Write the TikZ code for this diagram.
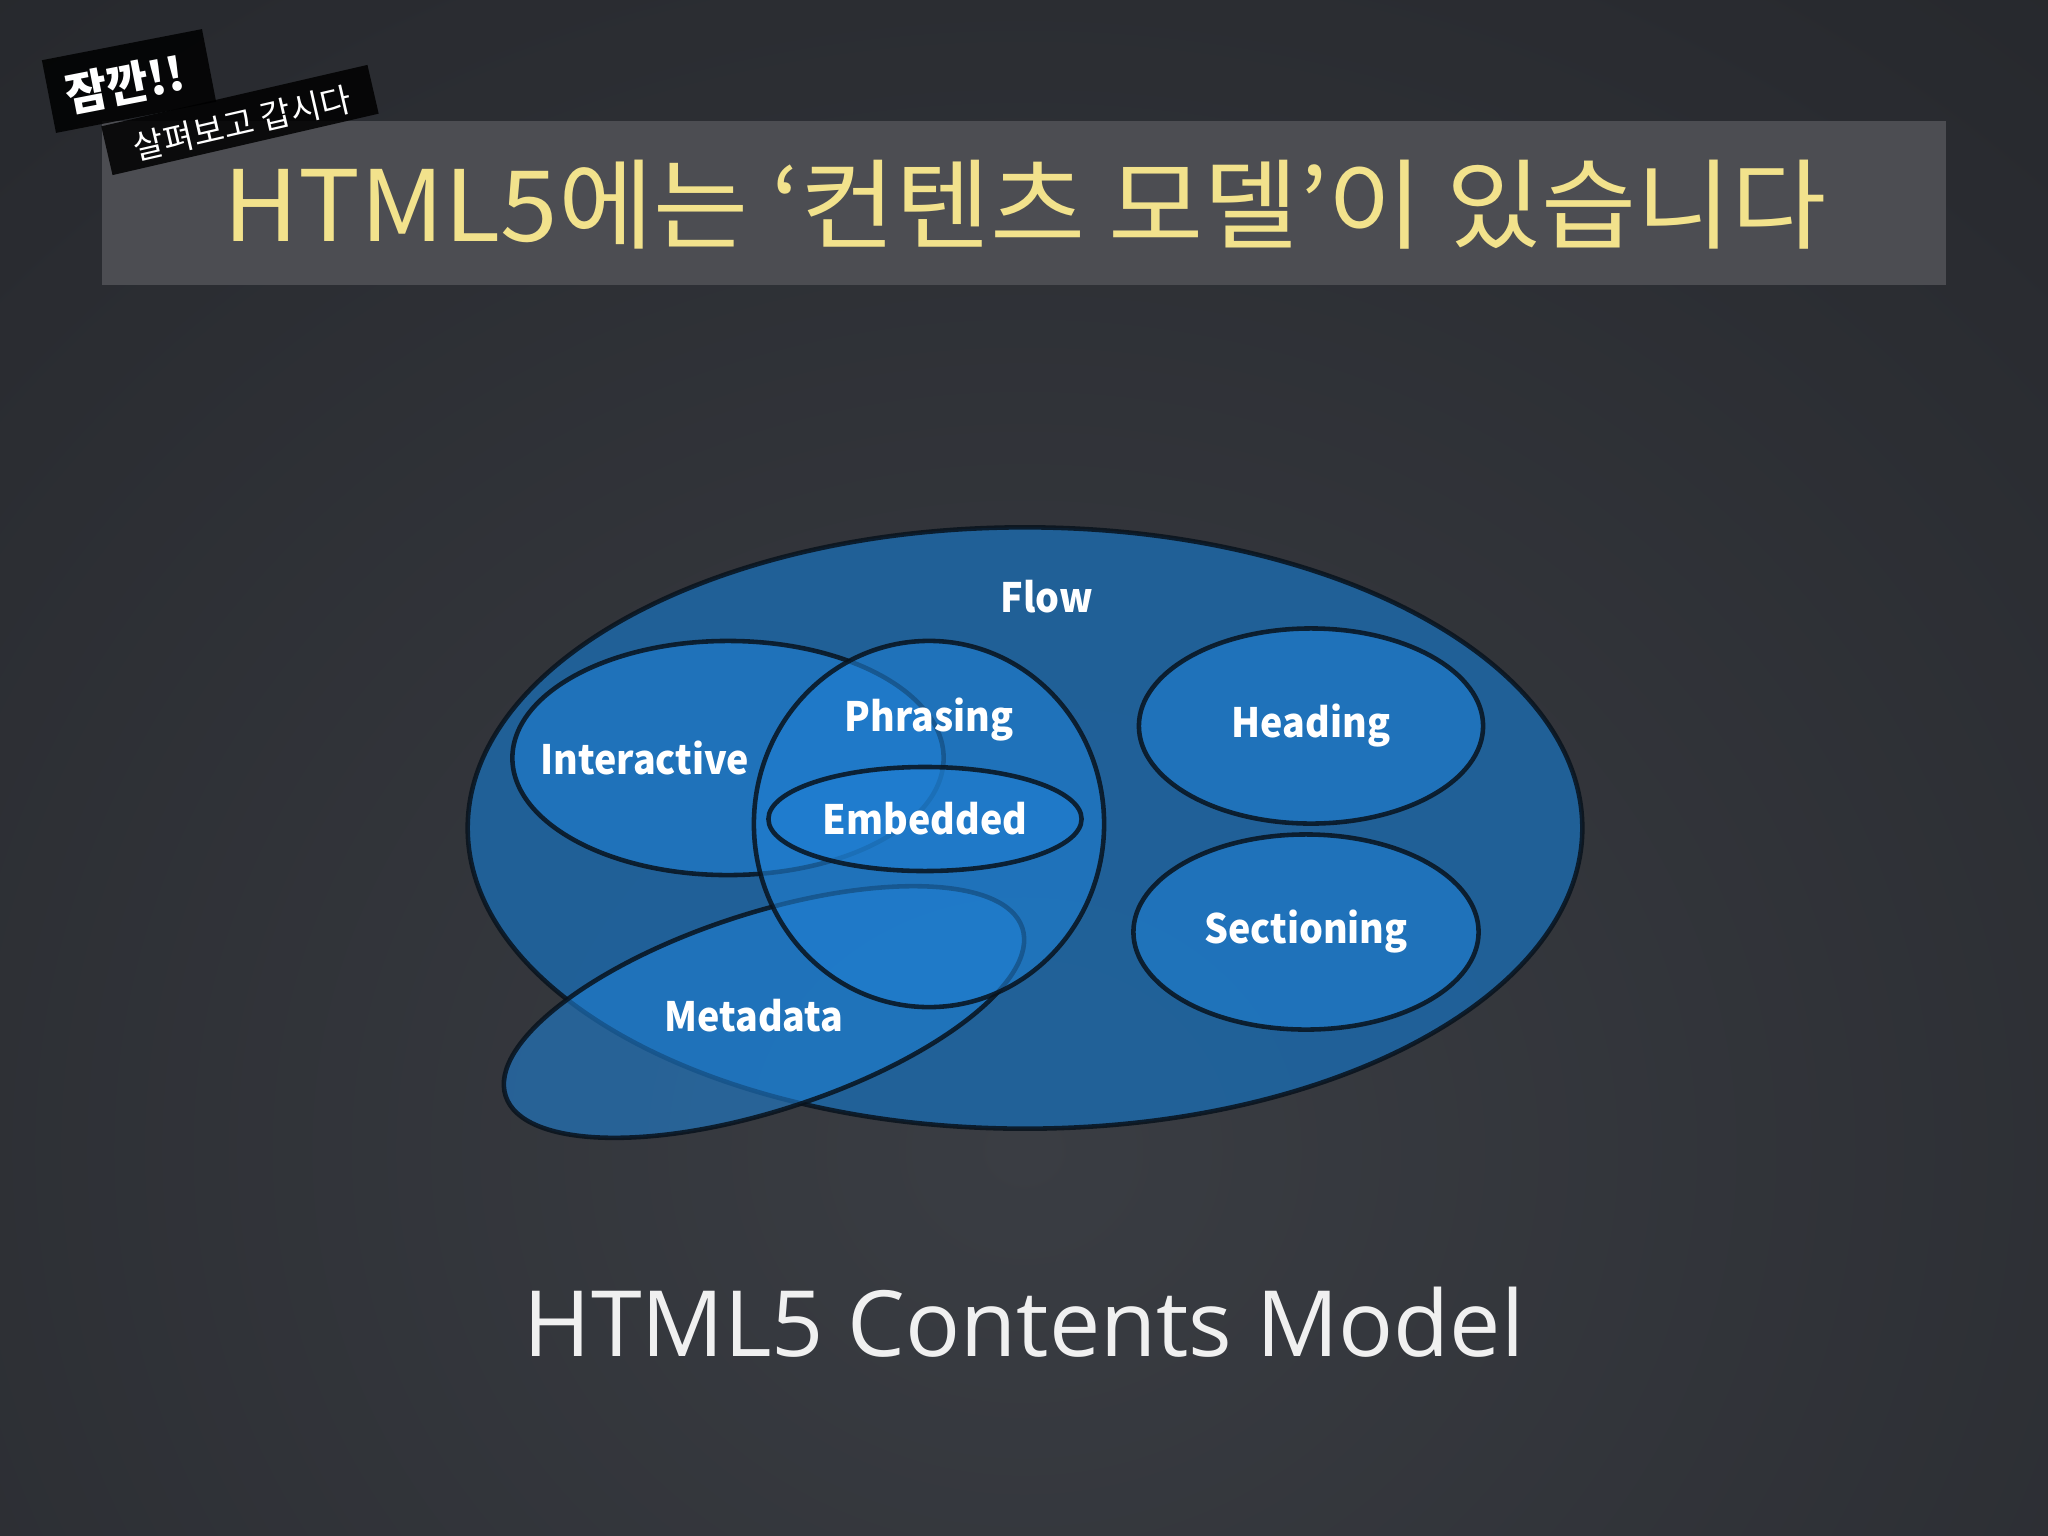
\documentclass[tikz,border=0pt]{standalone}
\usepackage{fontspec}
\setmainfont{Open Sans}
\newfontfamily\kofont{Noto Sans CJK KR}
\usetikzlibrary{shapes.geometric, positioning}

\definecolor{bgdark}{HTML}{191A1D}
\definecolor{bgmid}{HTML}{292B30}
\definecolor{bglight}{HTML}{3A3D43}
\definecolor{band}{HTML}{4C4D52}
\definecolor{chalk}{HTML}{F2E28C}
\definecolor{flowblue}{HTML}{1D68A8}
\definecolor{setblue}{HTML}{1F7FD2}
\definecolor{rim}{HTML}{08121C}

\pgfdeclareradialshading{bgglow}{\pgfpoint{0bp}{0bp}}{color(0bp)=(bglight); color(25bp)=(bgmid); color(50bp)=(bgdark)}

\begin{document}
\begin{tikzpicture}[x=0.01cm, y=-0.01cm,
  set/.style = {draw=rim, draw opacity=0.85, line width=1.3pt, ellipse, inner sep=0pt, fill=setblue, fill opacity=0.6},
  lbl/.style = {text=white, xscale=0.93, font=\kofont\bfseries\fontsize{11.5}{14}\selectfont},
  tagbox/.style = {fill=black, inner sep=0pt, fill opacity=0.85},
  tag/.style = {text=white, inner sep=0pt}]

  % background
  \useasboundingbox (0,0) rectangle (2048,1536);
  \fill[bgdark] (0,0) rectangle (2048,1536);
  \begin{scope}
    \clip (0,0) rectangle (2048,1536);
    \shade[shading=bgglow] (-400,-150) rectangle (2448,2450);
  \end{scope}

  % title band
  \fill[band] (102,121) rectangle (1946,285);
  \node[text=chalk, xscale=1.05, font=\kofont\fontsize{28}{32}\selectfont] (title) at (1025,205) {HTML5에는 ‘컨텐츠 모델’이 있습니다};

  % tags
  \node[tagbox, rotate=11, minimum width=1.63cm, minimum height=0.74cm] (waitbox) at (129,81) {};
  \node[tagbox, rotate=13, minimum width=2.73cm, minimum height=0.5cm] (peekbox) at (240,120) {};
  \node[tag, rotate=11, font=\kofont\bfseries\fontsize{13}{15}\selectfont] (wait) at (125,84) {잠깐!!};
  \node[tag, rotate=13, font=\kofont\fontsize{9.5}{11}\selectfont] (peek) at (242,123) {살펴보고 갑시다};

  % sets
  \node[set, fill=flowblue, fill opacity=0.85, minimum width=11.14cm, minimum height=6.01cm] (flow) at (1025,828) {};
  \node[set, minimum width=4.31cm, minimum height=2.34cm] (inter) at (728,758) {};
  \node[set, rotate=18, minimum width=5.43cm, minimum height=1.97cm] (meta) at (764,1012) {};
  \node[set, minimum width=3.5cm, minimum height=3.66cm] (phras) at (929,824) {};
  \node[set, minimum width=3.13cm, minimum height=1.04cm] (embed) at (925,819) {};
  \node[set, minimum width=3.44cm, minimum height=1.95cm] (head) at (1311,726) {};
  \node[set, minimum width=3.45cm, minimum height=1.95cm] (sect) at (1306,932) {};

  % labels
  \node[lbl] (flowtxt) at ([xshift=2.2mm, yshift=-7.2mm] flow.north) {Flow};
  \node[lbl] (intertxt) at ([xshift=-8.3mm] inter.center) {Interactive};
  \node[lbl] (phrastxt) at ([yshift=10.4mm] phras.center) {Phrasing};
  \node[lbl] (embedtxt) at (embed) {Embedded};
  \node[lbl] (headtxt) at (head) {Heading};
  \node[lbl] (secttxt) at (sect) {Sectioning};
  \node[lbl] (metatxt) at ([xshift=-1mm, yshift=-0.4mm] meta.center) {Metadata};

  \node[text=white!94!black, font=\fontsize{26}{30}\selectfont] (model) at (1024,1322) {HTML5 Contents Model};
\end{tikzpicture}
\end{document}
